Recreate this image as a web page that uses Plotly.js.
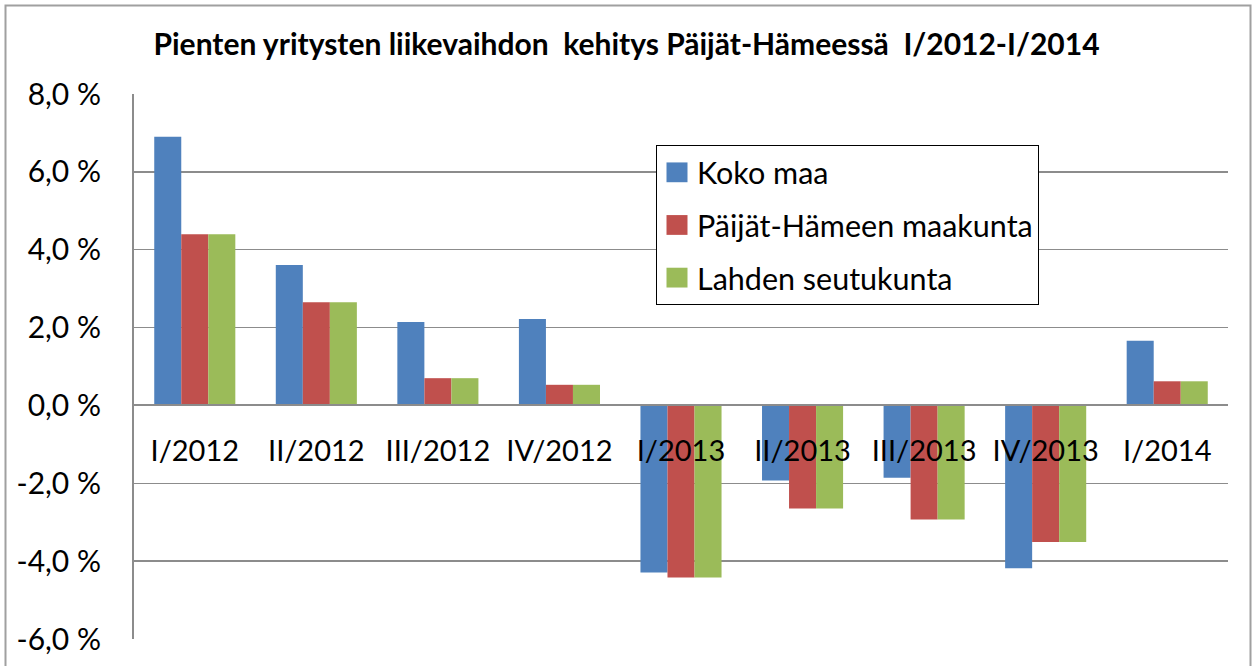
<!DOCTYPE html>
<html>
<head>
<meta charset="utf-8">
<script src="https://cdn.plot.ly/plotly-3.0.1.min.js"></script>
<style>html,body{margin:0;padding:0;background:#fff;}#chart{width:1253px;height:666px;}</style>
</head>
<body>
<div id="chart"></div>
<script>
const categories = ["I/2012","II/2012","III/2012","IV/2012","I/2013","II/2013","III/2013","IV/2013","I/2014"];
const kokoMaa   = [6.9, 3.61, 2.14, 2.22, -4.29, -1.93, -1.86, -4.18, 1.66];
const paijatHame = [4.4, 2.65, 0.70, 0.53, -4.42, -2.65, -2.93, -3.51, 0.62];
const lahti     = [4.4, 2.65, 0.70, 0.53, -4.42, -2.65, -2.93, -3.51, 0.62];
const seriesNames = ["Koko maa", "Päijät-Hämeen maakunta", "Lahden seutukunta"];
const seriesColors = ["#4F81BD", "#C0504D", "#9BBB59"];
const yTicks = [-6, -4, -2, 0, 2, 4, 6, 8];
const yTickText = yTicks.map(v => v.toFixed(1).replace(".", ",") + " %");

const FONT = "Lato, Carlito, 'Open Sans', sans-serif";
const seriesData = [kokoMaa, paijatHame, lahti];
const traces = seriesData.map((vals, i) => ({
  type: "bar",
  x: categories,
  y: vals,
  name: seriesNames[i],
  legendgroup: "g" + i,
  marker: {color: seriesColors[i], line: {width: 0}},
  hoverinfo: "x+y+name"
}));

const L = 134, R = 25, T = 94, B = 27;
const W = 1253 - L - R, H = 666 - T - B;
const px2x = p => (p - L) / W;
const px2y = p => (666 - B - p) / H;

const layout = {
  width: 1253,
  height: 666,
  margin: {l: L, r: R, t: T, b: B, pad: 0},
  paper_bgcolor: "#ffffff",
  plot_bgcolor: "#ffffff",
  separators: ", ",
  font: {family: FONT, color: "#000000", size: 28},
  title: {
    text: "<b>Pienten yritysten liikevaihdon\u00a0 kehitys Päijät-Hämeessä\u00a0 I/2012-I/2014</b>",
    font: {family: FONT, size: 30, color: "#000"},
    xref: "container", x: 0.5, xanchor: "center",
    yref: "container", y: 1 - 44/666, yanchor: "middle"
  },
  barmode: "group",
  bargap: 0.333,
  bargroupgap: 0,
  showlegend: true,
  legend: {
    x: px2x(656), y: px2y(145), xanchor: "left", yanchor: "top",
    bordercolor: "#000", borderwidth: 1, bgcolor: "#fff",
    font: {family: FONT, size: 30.5, color: "#000"},
    tracegroupgap: 10,
    traceorder: "grouped"
  },
  xaxis: {
    type: "category",
    anchor: "free",
    position: 6/14,
    showline: true, linecolor: "#8c8c8c", linewidth: 2,
    showgrid: false, zeroline: false,
    ticks: "outside", ticklen: 20, tickcolor: "rgba(0,0,0,0)",
    tickfont: {family: FONT, size: 29, color: "#000"},
    fixedrange: true
  },
  yaxis: {
    range: [-6, 8],
    tickmode: "array",
    tickvals: yTicks,
    ticktext: yTickText,
    showline: true, linecolor: "#8c8c8c", linewidth: 2,
    showgrid: true, gridcolor: "#8c8c8c", gridwidth: 1.5,
    zeroline: false,
    ticks: "outside", ticklen: 25, tickcolor: "rgba(0,0,0,0)",
    tickfont: {family: FONT, size: 30, color: "#000"},
    fixedrange: true
  },
  shapes: [{
    type: "rect", xref: "paper", yref: "paper",
    x0: px2x(5.5), x1: px2x(1250.5), y0: px2y(700), y1: px2y(5.5),
    line: {color: "#a0a0a0", width: 2}, fillcolor: "rgba(0,0,0,0)", layer: "below"
  }]
};

Plotly.newPlot("chart", traces, layout, {displayModeBar: false, staticPlot: true}).then(gd => {
  document.querySelectorAll("#chart .legendpoints path").forEach(p => {
    const t = p.getAttribute("transform") || "";
    p.setAttribute("transform", t + " scale(1.75,1.65)");
  });
});
</script>
</body>
</html>
